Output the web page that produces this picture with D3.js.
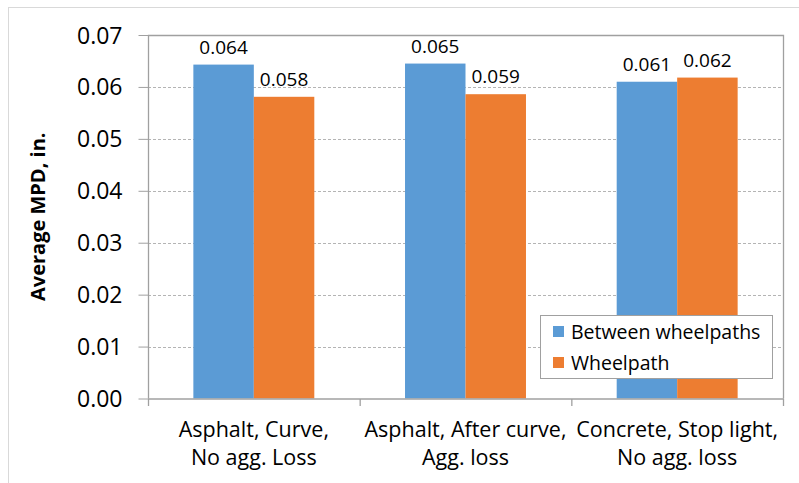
<!DOCTYPE html>
<html>
<head>
<meta charset="utf-8">
<script src="https://cdn.jsdelivr.net/npm/d3@7"></script>
<style>
body { margin: 0; background: #fff; }
text { font-family: "Open Sans", "Liberation Sans", sans-serif; fill: #000; }
</style>
</head>
<body>
<div id="chart"></div>
<script>
// data
var categories = [["Asphalt, Curve,", "No agg. Loss"], ["Asphalt, After curve,", "Agg. loss"], ["Concrete, Stop light,", "No agg. loss"]];
var seriesNames = ["Between wheelpaths", "Wheelpath"];
var betweenValues = [0.0643, 0.0645, 0.0610];
var wheelpathValues = [0.0581, 0.0586, 0.0618];
var yTicks = [0, 0.01, 0.02, 0.03, 0.04, 0.05, 0.06, 0.07];
var colors = ["#5B9BD5", "#ED7D31"];

var width = 799, height = 483;
var margin = {left: 148, top: 35, right: 16, bottom: 85};

var svg = d3.select("#chart").append("svg")
  .attr("width", width)
  .attr("height", height);

// outer chart border (only top/left visible in reference)
svg.append("rect")
  .attr("x", 8.5).attr("y", 7.5)
  .attr("width", width + 20).attr("height", height + 20)
  .style("fill", "none").style("stroke", "#d9d9d9");

var x = d3.scaleBand()
  .domain(d3.range(categories.length))
  .range([margin.left, width - margin.right]);

var inner = d3.scaleBand()
  .domain(d3.range(seriesNames.length))
  .range([0, x.bandwidth()])
  .paddingOuter(0.75);

var y = d3.scaleLinear()
  .domain([0, 0.07])
  .range([height - margin.bottom + 0.5, margin.top]);

// gridlines
svg.append("g").selectAll("line")
  .data(yTicks.filter(function(d){ return d > 0 && d < 0.07; }))
  .enter().append("line")
  .attr("x1", margin.left).attr("x2", width - margin.right)
  .attr("y1", function(d){ return Math.round(y(d)) + 0.5; })
  .attr("y2", function(d){ return Math.round(y(d)) + 0.5; })
  .style("stroke", "#b4b4b4")
  .style("stroke-dasharray", "3,2");

// bars
var seriesValues = [betweenValues, wheelpathValues];
seriesValues.forEach(function(vals, s) {
  svg.append("g").selectAll("rect")
    .data(vals)
    .enter().append("rect")
    .attr("x", function(d, i){ return x(i) + inner(s); })
    .attr("y", function(d){ return y(d); })
    .attr("width", inner.bandwidth())
    .attr("height", function(d){ return y(0) - y(d); })
    .style("fill", colors[s]);

  svg.append("g").selectAll("text")
    .data(vals)
    .enter().append("text")
    .attr("x", function(d, i){ return x(i) + inner(s) + inner.bandwidth() / 2; })
    .attr("y", function(d){ return y(d) - 11; })
    .attr("text-anchor", "middle")
    .style("font-size", "19px")
    .text(function(d){ return d3.format(".3f")(d); });
});

// plot border: left, top, right
svg.append("path")
  .attr("d", "M" + (margin.left + 0.5) + "," + y(0) + "V" + (margin.top + 0.5) + "H" + (width - margin.right + 0.5) + "V" + y(0))
  .style("fill", "none").style("stroke", "#a0a0a0").style("stroke-width", 1.3);

// y axis
var yAxis = d3.axisLeft(y)
  .tickValues(yTicks)
  .tickFormat(d3.format(".2f"))
  .tickSize(10)
  .tickPadding(16);
var gy = svg.append("g")
  .attr("transform", "translate(" + (margin.left + 0.5) + ",0)")
  .call(yAxis);
gy.select(".domain").remove();
gy.selectAll(".tick line").style("stroke", "#a0a0a0");
gy.selectAll("text").style("font-size", "23px").style("font-family", "Open Sans, sans-serif").attr("dy", "0.35em");

// x axis
var gx = svg.append("g")
  .attr("transform", "translate(0," + (y(0) + 0.5) + ")");
gx.append("line")
  .attr("x1", margin.left).attr("x2", width - margin.right + 1)
  .style("stroke", "#a0a0a0").style("stroke-width", 1.3);
gx.selectAll(".xt")
  .data(d3.range(categories.length + 1))
  .enter().append("line")
  .attr("class", "xt")
  .attr("x1", function(d){ return d < categories.length ? x(d) + 0.5 : x(d - 1) + x.bandwidth() + 0.5; })
  .attr("x2", function(d){ return d < categories.length ? x(d) + 0.5 : x(d - 1) + x.bandwidth() + 0.5; })
  .attr("y1", 0).attr("y2", 7)
  .style("stroke", "#a0a0a0").style("stroke-width", 1.3);

categories.forEach(function(lines, i) {
  var t = gx.append("text")
    .attr("text-anchor", "middle")
    .style("font-size", "21.5px");
  lines.forEach(function(line, j) {
    t.append("tspan")
      .attr("x", x(i) + x.bandwidth() / 2)
      .attr("y", 38 + j * 28)
      .text(line);
  });
});

// y title
svg.append("text")
  .attr("transform", "translate(45," + ((y(0) + margin.top) / 2) + ") rotate(-90)")
  .attr("text-anchor", "middle")
  .style("font-size", "20px")
  .style("font-weight", "bold")
  .text("Average MPD, in.");

// legend
var lg = svg.append("g").attr("transform", "translate(540,315)");
lg.append("rect")
  .attr("x", 0.5).attr("y", 0.5)
  .attr("width", 232).attr("height", 63)
  .style("fill", "#fff").style("stroke", "#a0a0a0");
seriesNames.forEach(function(name, i) {
  lg.append("rect")
    .attr("x", 13).attr("y", 11 + i * 31)
    .attr("width", 11).attr("height", 11)
    .style("fill", colors[i]);
  lg.append("text")
    .attr("x", 31).attr("y", 17 + i * 31)
    .attr("dy", "0.35em")
    .style("font-size", "19.5px")
    .text(name);
});
</script>
</body>
</html>
